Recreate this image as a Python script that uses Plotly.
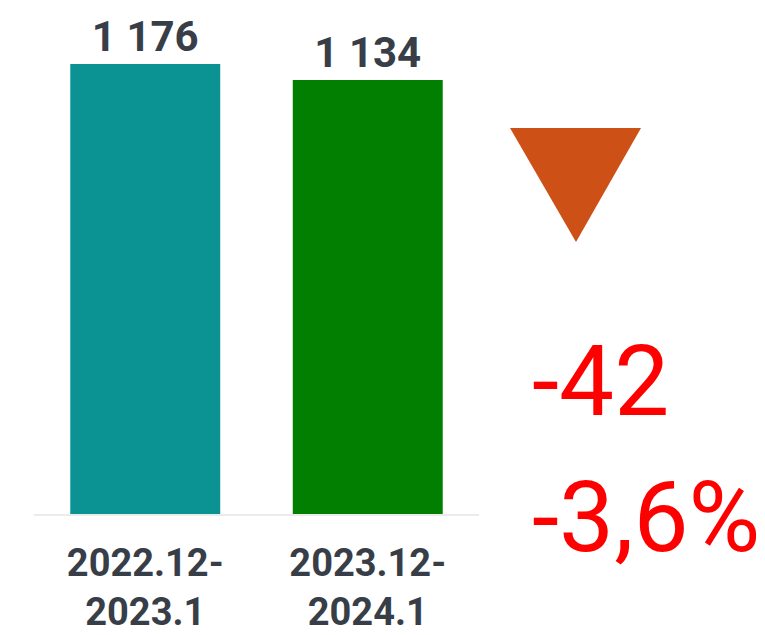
import plotly.graph_objects as go

categories = ["2022.12-<br>2023.1", "2023.12-<br>2024.1"]
values = [1176, 1134]
value_labels = ["1 176", "1 134"]
bar_colors = ["#0B9393", "#027F00"]
change_abs = "-42"
change_pct = "-3,6%"

OFF = 8  # default page body margin
W, H = 765 - OFF, 635 - OFF
mt, mb = 20 - OFF, 121
plot_h = H - mt - mb

def fx(px):
    return (px - OFF) / W

def fy(py):
    return (H - mb - (py - OFF)) / plot_h

fig = go.Figure()
fig.add_trace(go.Bar(
    x=categories, y=values, text=value_labels,
    textposition="outside", cliponaxis=False,
    marker=dict(color=bar_colors, line=dict(width=0)),
    textfont=dict(family="Roboto", size=42, color="#383E47", weight="bold"),
    width=0.674,
))

fig.add_annotation(xref="paper", yref="paper", x=fx(530), y=fy(382), text=change_abs,
                   showarrow=False, xanchor="left", yanchor="middle",
                   font=dict(family="Roboto", size=98, color="#FF0000"))
fig.add_annotation(xref="paper", yref="paper", x=fx(530), y=fy(517), text=change_pct,
                   showarrow=False, xanchor="left", yanchor="middle",
                   font=dict(family="Roboto", size=98, color="#FF0000"))

fig.add_shape(type="path", xref="paper", yref="paper",
              path=f"M {fx(510)} {fy(128)} L {fx(641)} {fy(128)} L {fx(576)} {fy(242)} Z",
              fillcolor="#CD5016", line=dict(width=0))

fig.update_layout(
    width=W, height=H,
    margin=dict(l=0, r=0, t=mt, b=mb, autoexpand=False),
    paper_bgcolor="white", plot_bgcolor="white",
    showlegend=False,
    xaxis=dict(domain=[fx(34), fx(479)], showline=True, linecolor="#EBEBEB", linewidth=2,
               tickfont=dict(family="Roboto", size=38, color="#383E47", weight="bold"),
               ticks="", ticklabelstandoff=14, automargin=False),
    yaxis=dict(range=[0, plot_h / (450/1176)], visible=False, showgrid=False, zeroline=False,
               automargin=False),
)

fig.write_html("out.html")
